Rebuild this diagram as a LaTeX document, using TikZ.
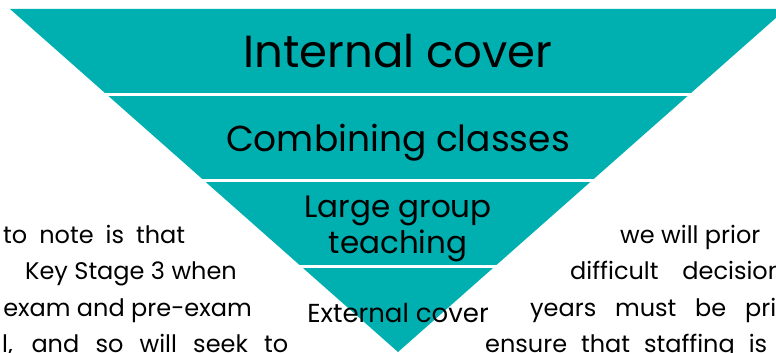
\documentclass[tikz,border=0pt]{standalone}
\usepackage{fontspec}
\setmainfont{Poppins}
\usetikzlibrary{calc}
\definecolor{funnelteal}{RGB}{0,176,176}
\tikzset{
  band/.style={fill=funnelteal},
  gap/.style={draw=white, line width=3pt, shorten <=-4pt, shorten >=-4pt},
  level/.style={inner sep=0pt, anchor=base, align=center},
  para/.style={inner sep=0pt, font=\fontsize{24}{24}\selectfont},
}
\begin{document}
\begin{tikzpicture}[x=1pt,y=-1pt]
\useasboundingbox (0,0) rectangle (776,353);
\clip (0,0) rectangle (776,353);
% Trechter
\coordinate (TL) at (10,9);
\coordinate (TR) at (786,9);
\coordinate (A) at (398,352);
\fill[band] (TL) -- (TR) -- (A) -- cycle;

% Scheidingslijnen
\foreach \t in {0.25,0.5,0.75}
  \draw[gap] ($(TL)!\t!(A)$) -- ($(TR)!\t!(A)$);

% Niveaus
\node[level, font=\fontsize{45}{45}\selectfont] (internal) at (398,67) {Internal cover};
\node[level, font=\fontsize{36}{36}\selectfont] (combining) at (398,151) {Combining classes};
\node[level, font=\fontsize{31}{36}\selectfont] (large) at (398,253) {Large group\\teaching};
\node[level, font=\fontsize{26}{26}\selectfont] (external) at (398,322) {External cover};

% Tekst links
\node[para, anchor=base west] (left1) at (3,243) {\makebox[182pt][s]{to note is that}};
\node[para, anchor=base east] (left2) at (237,279) {Key Stage 3 when};
\node[para, anchor=base east] (left3) at (252,316) {exam and pre-exam};
\node[para, anchor=base west] (left4) at (2,352) {\makebox[286pt][s]{l, and so will seek to}};

% Tekst rechts
\node[para, anchor=base west] (right1) at (620,243) {we will prior};
\node[para, anchor=base west] (right2) at (570,279) {\makebox[213pt][s]{difficult decision}};
\node[para, anchor=base west] (right3) at (530,316) {\makebox[246pt][s]{years must be pri}};
\node[para, anchor=base west] (right4) at (485,352) {\makebox[282pt][s]{ensure that staffing is}};
\end{tikzpicture}
\end{document}
